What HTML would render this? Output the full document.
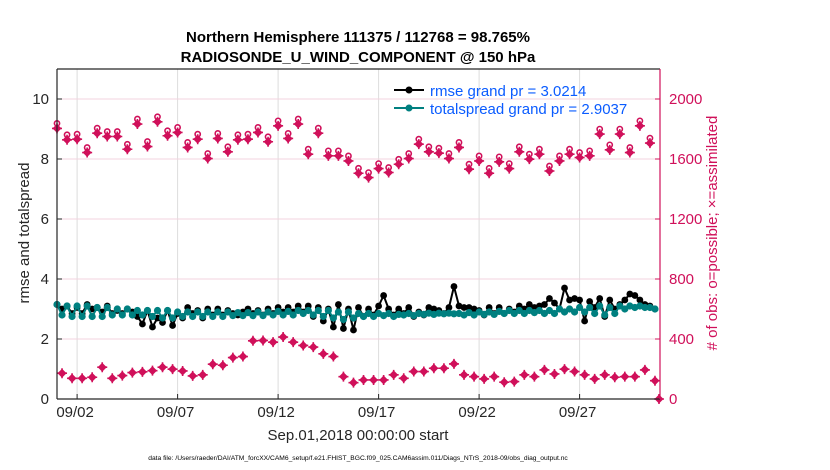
<!DOCTYPE html>
<html><head><meta charset="utf-8"><style>
body{margin:0;background:#fff;}
svg{display:block;font-family:"Liberation Sans",sans-serif;}
</style></head><body>
<svg id="chart" width="830" height="470" xmlns="http://www.w3.org/2000/svg">
<text x="358" y="42" text-anchor="middle" font-size="15" font-weight="bold">Northern Hemisphere 111375 / 112768 = 98.765%</text>
<text x="358" y="62" text-anchor="middle" font-size="15" font-weight="bold">RADIOSONDE_U_WIND_COMPONENT @ 150 hPa</text>
<g id="grid"></g>
<g id="marks"></g>
<g id="axes"></g>
<text x="29" y="233" transform="rotate(-90 29 233)" text-anchor="middle" font-size="15" fill="#262626">rmse and totalspread</text>
<text x="717" y="233" transform="rotate(-90 717 233)" text-anchor="middle" font-size="15" fill="#d0105a"># of obs: o=possible; ×=assimilated</text>
<text x="358" y="440" text-anchor="middle" font-size="15" fill="#262626">Sep.01,2018 00:00:00 start</text>
<text x="358" y="460" text-anchor="middle" font-size="6.7" fill="#000">data file: /Users/raeder/DAI/ATM_forcXX/CAM6_setup/f.e21.FHIST_BGC.f09_025.CAM6assim.011/Diags_NTrS_2018-09/obs_diag_output.nc</text>
<g id="legend">
 <line x1="394" y1="90" x2="424" y2="90" stroke="#000" stroke-width="2"/>
 <circle cx="409" cy="90" r="3.5" fill="#000"/>
 <text x="430" y="96" font-size="15" fill="#0a5cff">rmse grand pr = 3.0214</text>
 <line x1="394" y1="108" x2="424" y2="108" stroke="#008080" stroke-width="2"/>
 <circle cx="409" cy="108" r="3.5" fill="#008080"/>
 <text x="430" y="114" font-size="15" fill="#0a5cff">totalspread grand pr = 2.9037</text>
</g>
</svg>
<script>
const xTickDays=[1,6,11,16,21,26];
const xTickLabels=["09/02","09/07","09/12","09/17","09/22","09/27"];
const yLeftTicks=[0,2,4,6,8,10];
const yRightTicks=[0,400,800,1200,1600,2000];
const upperCounts=[1804,1728,1732,1643,1772,1750,1750,1665,1833,1683,1848,1755,1777,1677,1732,1603,1737,1648,1728,1732,1777,1715,1821,1737,1833,1632,1772,1621,1621,1587,1505,1476,1536,1510,1565,1603,1699,1648,1639,1603,1677,1532,1587,1505,1581,1536,1648,1599,1632,1520,1587,1632,1610,1621,1766,1661,1766,1643,1821,1706];
const lowerCounts=[172,138,138,145,212,138,156,176,181,189,212,199,187,154,161,232,225,276,283,388,390,379,413,379,357,346,301,283,149,109,127,127,127,161,138,183,183,205,205,234,161,149,134,149,112,116,161,149,194,167,199,183,161,134,161,145,149,149,194,122,0];
const spread=[3.15,2.8,3.1,2.75,3.1,2.75,3.1,2.75,3.05,2.75,3.05,2.8,3.0,2.8,3.0,2.8,
2.95,2.8,2.95,2.75,2.95,2.7,2.95,2.7,2.9,2.75,2.9,2.75,2.9,2.75,2.9,2.75,
2.9,2.75,2.9,2.78,2.88,2.78,2.88,2.78,2.9,2.78,2.9,2.8,2.92,2.8,2.92,2.8,
2.95,2.85,2.95,2.8,2.95,2.75,2.95,2.7,2.9,2.65,2.9,2.7,2.85,2.75,2.85,2.75,
2.85,2.78,2.85,2.75,2.82,2.8,2.85,2.78,2.85,2.82,2.86,2.82,2.86,2.84,2.86,2.84,
2.85,2.8,2.88,2.8,2.9,2.82,2.9,2.82,2.92,2.85,2.95,2.85,2.95,2.85,2.95,2.88,
2.95,2.85,2.95,2.85,3.0,2.9,3.0,2.9,3.05,2.9,3.05,2.85,3.1,2.8,3.05,2.85,
3.1,3.0,3.1,3.05,3.1,3.05,3.05,3.0];
const rmse=[3.15,3.0,3.1,2.85,3.05,2.85,3.15,3.0,3.05,2.9,3.1,2.85,2.95,2.85,3.0,2.9,
2.75,2.5,2.95,2.4,2.7,2.55,2.95,2.45,2.85,2.7,3.05,2.85,2.95,2.7,3.0,2.8,
3.0,2.8,2.95,2.85,2.8,2.9,3.0,2.85,2.95,2.8,3.0,2.85,3.05,2.9,3.05,2.9,
3.1,2.9,3.1,2.75,3.05,2.6,3.0,2.4,3.15,2.35,3.0,2.3,3.05,2.75,3.0,2.8,
3.1,3.45,3.0,2.8,3.0,2.85,3.05,2.75,2.9,2.8,3.05,3.0,2.95,2.85,3.05,3.75,
3.1,3.05,3.05,3.0,2.95,2.8,3.05,2.85,3.05,2.85,3.0,2.9,3.1,3.0,3.15,3.05,
3.1,3.15,3.35,3.2,3.0,3.7,3.3,3.35,3.3,2.6,3.25,3.05,3.35,2.75,3.3,3.0,
3.15,3.3,3.5,3.45,3.3,3.15,3.1,3.0];

const NS="http://www.w3.org/2000/svg";
const L=57,R=660,T=69,B=399;
const X=d=>L+d*(R-L)/30;
const YL=v=>B-v*(B-T)/11;
const YR=v=>B-v*(B-T)/2200;
function mk(tag,attrs,parent){const e=document.createElementNS(NS,tag);for(const k in attrs)e.setAttribute(k,attrs[k]);parent.appendChild(e);return e;}
const grid=document.getElementById('grid'),marks=document.getElementById('marks'),axes=document.getElementById('axes');

xTickDays.forEach((d,i)=>{
 const g=mk('line',{x1:X(d),x2:X(d),y1:T,y2:B,stroke:'#dcdcdc','stroke-width':1},grid);
 
 
 const t=mk('line',{x1:X(d),x2:X(d),y1:B,y2:B-5,stroke:'#262626'},axes);
 
 
 const tx=mk('text',{x:X(d)-2,y:B+18,'text-anchor':'middle','font-size':15,fill:'#262626'},axes);
 tx.textContent=xTickLabels[i];
 
 
});
yRightTicks.forEach(v=>{
 if(v===0)return;
 const g=mk('line',{x1:L,x2:R,y1:YR(v),y2:YR(v),stroke:'#f3d3df','stroke-width':1},grid);
 
 
});
yLeftTicks.forEach(v=>{
 const t=mk('line',{x1:L,x2:L+5,y1:YL(v),y2:YL(v),stroke:'#262626'},axes);
 
 
 const tx=mk('text',{x:L-8,y:YL(v)+5,'text-anchor':'end','font-size':15,fill:'#262626'},axes);
 tx.textContent=v;
 
 
});
yRightTicks.forEach(v=>{
 const t=mk('line',{x1:R-5,x2:R,y1:YR(v),y2:YR(v),stroke:'#d0105a'},axes);
 
 
 const tx=mk('text',{x:R+9,y:YR(v)+5,'font-size':15,fill:'#d0105a'},axes);
 tx.textContent=v;
 
 
});
[[L,T,R,T,'#262626','axis-top'],[L,B,R,B,'#262626','x-axis-line'],[L,T,L,B,'#262626','y-left-axis-line'],[R,T,R,B,'#d0105a','y-right-axis-line']].forEach(a=>{
 const e=mk('line',{x1:a[0],y1:a[1],x2:a[2],y2:a[3],stroke:a[4],'stroke-width':1.2},axes);
 
 
});

function star(x,y,withCircle){
 const g=mk('g',{},marks);
 
 
 if(withCircle){mk('circle',{cx:x,cy:y-5,r:2.6,fill:'#fff',stroke:'#d0105a','stroke-width':1.6},g);}
 mk('path',{d:`M${x-4.5} ${y}L${x} ${y-4.5}L${x+4.5} ${y}L${x} ${y+4.5}Z`,fill:'#d0105a'},g);
 mk('path',{d:`M${x-5} ${y}H${x+5}M${x} ${y-5}V${y+5}`,stroke:'#d0105a','stroke-width':1.6},g);
}
upperCounts.forEach((c,i)=>star(X(i*0.5),YR(c),true));
lowerCounts.forEach((c,i)=>star(X(Math.min(0.25+i*0.5,29.95)),YR(c),false));

function series(vals,color,name,r){
 const pts=vals.map((v,i)=>X(i*0.25)+','+YL(v)).join(' ');
 const p=mk('polyline',{points:pts,fill:'none',stroke:color,'stroke-width':2},marks);
 
 
 vals.forEach((v,i)=>{
  const c=mk('circle',{cx:X(i*0.25),cy:YL(v),r:r,fill:color},marks);
  
  
 });
}
series(rmse,'#000','rmse',3.4);
series(spread,'#008080','totalspread',3.6);
</script>
</body></html>
